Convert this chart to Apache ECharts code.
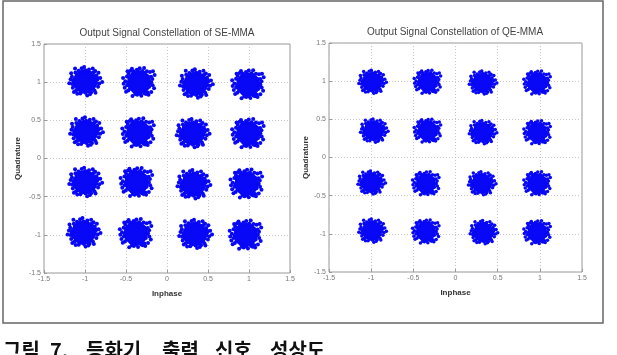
<!DOCTYPE html>
<html>
<head>
<meta charset="utf-8">
<script src="https://cdn.jsdelivr.net/npm/echarts@6/dist/echarts.min.js"></script>
<style>
  html, body { margin: 0; padding: 0; background: #fff; }
  #chart { width: 617px; height: 355px; }
</style>
</head>
<body>
<div id="chart"></div>
<script>
// cluster centres (Inphase, Quadrature)
const seCenters = [
  [-1.00, 1.01], [-0.34, 1.00], [0.35, 0.98], [0.99, 0.97],
  [-0.99, 0.35], [-0.35, 0.34], [0.31, 0.33], [0.99, 0.33],
  [-1.00, -0.31], [-0.37, -0.31], [0.32, -0.34], [0.97, -0.33],
  [-1.02, -0.97], [-0.38, -0.98], [0.34, -0.99], [0.96, -1.00]
];
const qeCenters = [
  [-0.99, 0.99], [-0.33, 0.99], [0.32, 0.98], [0.97, 0.98],
  [-0.97, 0.35], [-0.33, 0.35], [0.32, 0.33], [0.97, 0.33],
  [-1.00, -0.33], [-0.35, -0.34], [0.31, -0.34], [0.97, -0.34],
  [-0.99, -0.96], [-0.35, -0.97], [0.33, -0.98], [0.97, -0.98]
];
// scatter of the noisy points around a centre (in units of the cluster spread)
const offsetsA = [
  [0.95,0.10],[0.88,-0.42],[0.62,0.78],[0.18,0.98],[-0.32,0.92],[-0.74,0.66],[-0.98,0.18],[-0.92,-0.38],
  [-0.66,-0.78],[-0.22,-0.98],[0.30,-0.94],[0.72,-0.70],[1.12,0.18],[1.02,0.58],[0.36,1.16],[-0.58,1.04],
  [-1.18,0.46],[-1.10,-0.62],[-0.42,-1.18],[0.56,-1.08],[1.18,-0.52],[1.38,0.32],[-0.08,1.40],[-1.42,-0.18],
  [0.20,-1.36],[0.92,1.00],[-1.00,-1.02],[1.05,-0.15],[-1.05,0.02],[0.02,1.08],[0.05,-1.10],[0.78,0.88],
  [-0.86,0.86],[-0.82,-0.90],[0.86,-0.88],[1.22,0.85],[-1.25,0.78],[0.70,1.25],[-0.30,1.28],[-1.30,0.20],
  [1.30,-0.20],[0.95,-1.10],[-0.70,-1.20],[0.45,-1.25],[1.55,-0.05],[-0.90,1.25],[1.10,0.35],[-1.15,-0.25]
];
const offsetsB = [
  [1.00,-0.05],[0.80,0.55],[0.40,0.92],[-0.10,1.00],[-0.55,0.84],[-0.90,0.45],[-1.00,-0.06],[-0.82,-0.58],
  [-0.44,-0.90],[0.08,-1.00],[0.55,-0.84],[0.90,-0.45],[1.20,0.30],[0.70,1.05],[-0.20,1.20],[-0.95,0.82],
  [-1.25,0.10],[-0.98,-0.80],[-0.18,-1.22],[0.78,-1.00],[1.22,-0.30],[-1.45,0.40],[1.40,0.70],[0.45,1.38],
  [-0.60,-1.35],[1.10,-0.95],[-1.30,-0.55],[1.08,0.52],[-1.10,0.55],[0.48,-1.08],[-0.50,1.06],[0.30,1.08],
  [-1.08,-0.30],[1.10,0.00],[0.02,-1.12],[-0.78,1.12],[0.98,0.98],[-1.18,-0.92],[0.20,-1.32],[1.35,-0.60],
  [-0.35,-1.15],[0.85,-1.22],[-1.40,-0.15],[0.05,1.35],[-1.05,1.05],[1.25,1.05],[0.62,-1.15],[-0.65,1.30]
];
const seSpread = 0.135;
const qeSpread = 0.11;
const captionWords = ['그림', '7.', '등화기', '출력', '신호', '성상도'];
const captionX = [3, 50, 86, 162, 215, 270];

// build the scattered points for one plot
function cloud(centers, spread) {
  const pts = [];
  centers.forEach((c, i) => {
    const tpl = i % 2 ? offsetsB : offsetsA;
    tpl.forEach(o => pts.push([c[0] + o[0] * spread, c[1] + o[1] * spread]));
  });
  return pts;
}

const chart = echarts.init(document.getElementById('chart'));
const FONT = 'Liberation Sans';
const BLUE = '#0808f6';

const axisCommon = {
  min: -1.5, max: 1.5, interval: 0.5,
  axisLine: { show: false, onZero: false },
  axisTick: { show: true, inside: true, length: 3, lineStyle: { color: '#999' } },
  axisLabel: { fontSize: 7, color: '#777', fontFamily: FONT, margin: 3 },
  splitLine: { show: true, lineStyle: { color: '#c8c8c8', type: [1, 2], width: 1 } },
  nameLocation: 'middle',
  nameTextStyle: { fontSize: 8, fontWeight: 'bold', color: '#333', fontFamily: FONT }
};

const option = {
  animation: false,
  grid: [
    { left: 44, top: 44, width: 246, height: 229, show: true, borderColor: '#999', borderWidth: 1 },
    { left: 329, top: 43, width: 253, height: 229, show: true, borderColor: '#999', borderWidth: 1 }
  ],
  xAxis: [
    Object.assign({}, axisCommon, { gridIndex: 0, type: 'value', name: 'Inphase', nameGap: 17 }),
    Object.assign({}, axisCommon, { gridIndex: 1, type: 'value', name: 'Inphase', nameGap: 17 })
  ],
  yAxis: [
    Object.assign({}, axisCommon, { gridIndex: 0, type: 'value', name: 'Quadrature', nameGap: 22 }),
    Object.assign({}, axisCommon, { gridIndex: 1, type: 'value', name: 'Quadrature', nameGap: 17 })
  ],
  series: [
    { type: 'scatter', xAxisIndex: 0, yAxisIndex: 0, data: seCenters, symbolSize: 24,
      itemStyle: { color: BLUE, opacity: 1 }, silent: true },
    { type: 'scatter', xAxisIndex: 0, yAxisIndex: 0, data: cloud(seCenters, seSpread), symbolSize: 4,
      itemStyle: { color: BLUE, opacity: 1 }, silent: true },
    { type: 'scatter', xAxisIndex: 1, yAxisIndex: 1, data: qeCenters, symbolSize: 20,
      itemStyle: { color: BLUE, opacity: 1 }, silent: true },
    { type: 'scatter', xAxisIndex: 1, yAxisIndex: 1, data: cloud(qeCenters, qeSpread), symbolSize: 3.5,
      itemStyle: { color: BLUE, opacity: 1 }, silent: true }
  ],
  graphic: [
    { type: 'rect', shape: { x: 3, y: 1, width: 600, height: 322 },
      style: { fill: 'none', stroke: '#666', lineWidth: 1.5 } },
    { type: 'text', x: 167, y: 28, style: { text: 'Output Signal Constellation of SE-MMA',
      font: '10px "Liberation Sans"', fill: '#444', textAlign: 'center' } },
    { type: 'text', x: 455, y: 27, style: { text: 'Output Signal Constellation of QE-MMA',
      font: '10px "Liberation Sans"', fill: '#444', textAlign: 'center' } }
  ].concat(captionWords.map((w, i) => ({
    type: 'text', x: captionX[i], y: 340,
    style: { text: w, font: 'bold 20px "Noto Sans CJK KR"', fill: '#111' }
  })))
};
chart.setOption(option);
</script>
</body>
</html>
